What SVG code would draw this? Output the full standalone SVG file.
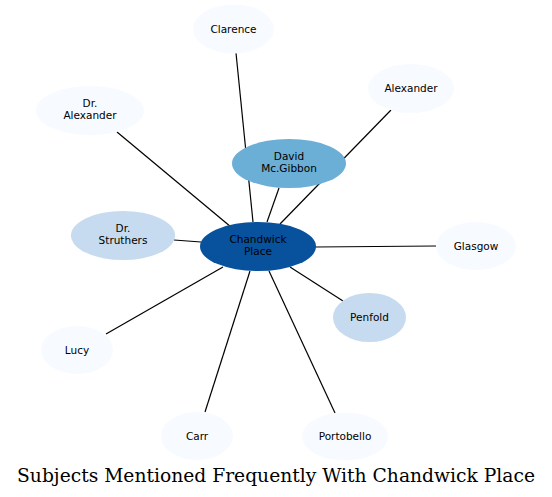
<svg xmlns="http://www.w3.org/2000/svg" width="552" height="497" viewBox="0 0 552 497">
<style>
.n text{font-family:"DejaVu Sans",sans-serif;font-size:10.5px;text-anchor:middle;fill:#000}
.e line{stroke:#000;stroke-width:1.2}
.c0{fill:#f7fbff}.c1{fill:#c6dbef}.c2{fill:#6baed6}.c3{fill:#08519c}
</style>
<rect width="552" height="497" fill="#fff"/>
<g id="edges" class="e">
<line x1="236" y1="53" x2="253" y2="222"/>
<line x1="391" y1="110" x2="280" y2="224"/>
<line x1="279" y1="188" x2="267" y2="222"/>
<line x1="117" y1="132" x2="231" y2="227"/>
<line x1="174" y1="240" x2="201" y2="242"/>
<line x1="315" y1="247" x2="436" y2="246"/>
<line x1="343" y1="301" x2="290" y2="267"/>
<line x1="106" y1="334" x2="223" y2="267"/>
<line x1="205" y1="412" x2="250" y2="271"/>
<line x1="335" y1="413" x2="269" y2="271"/>
</g>
<g id="clarence" class="n"><ellipse class="c0" cx="233.5" cy="29" rx="40.5" ry="24.5"/><text x="233.5" y="32.5">Clarence</text></g>
<g id="alexander" class="n"><ellipse class="c0" cx="411" cy="88.5" rx="43" ry="24.5"/><text x="411" y="92">Alexander</text></g>
<g id="dr-alexander" class="n"><ellipse class="c0" cx="90" cy="110.5" rx="54" ry="24.5"/><text x="90" y="107.3">Dr.</text><text x="90" y="119">Alexander</text></g>
<g id="david-mcgibbon" class="n"><ellipse class="c2" cx="289" cy="163.5" rx="57" ry="24.5"/><text x="289" y="160.3">David</text><text x="289" y="172">Mc.Gibbon</text></g>
<g id="dr-struthers" class="n"><ellipse class="c1" cx="123" cy="235.5" rx="52" ry="24.5"/><text x="123" y="232.3">Dr.</text><text x="123" y="244">Struthers</text></g>
<g id="chandwick-place" class="n"><ellipse class="c3" cx="258" cy="246.5" rx="58" ry="24.5"/><text x="258" y="243.3">Chandwick</text><text x="258" y="255">Place</text></g>
<g id="glasgow" class="n"><ellipse class="c0" cx="476" cy="246" rx="40" ry="24"/><text x="476" y="249.5">Glasgow</text></g>
<g id="penfold" class="n"><ellipse class="c1" cx="369.5" cy="317.5" rx="36.5" ry="24.5"/><text x="369.5" y="321">Penfold</text></g>
<g id="lucy" class="n"><ellipse class="c0" cx="77" cy="350" rx="36" ry="24"/><text x="77" y="353.5">Lucy</text></g>
<g id="carr" class="n"><ellipse class="c0" cx="197" cy="436" rx="36" ry="24"/><text x="197" y="439.5">Carr</text></g>
<g id="portobello" class="n"><ellipse class="c0" cx="345" cy="436.5" rx="43" ry="24"/><text x="345" y="440">Portobello</text></g>
<text x="276" y="481.5" font-family="DejaVu Serif,serif" font-size="18.7" text-anchor="middle" fill="#000">Subjects Mentioned Frequently With Chandwick Place</text>
</svg>
